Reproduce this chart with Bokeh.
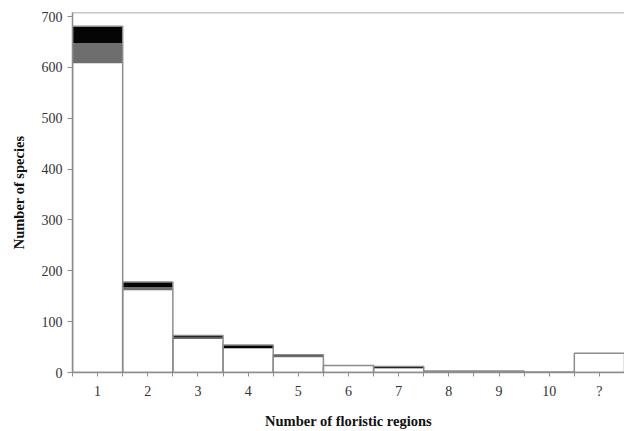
from bokeh.plotting import figure
from bokeh.models import ColumnDataSource, FixedTicker, Range1d, Span
from bokeh.embed import file_html
from bokeh.resources import INLINE

# Species counts per number of floristic regions, split into three groups
categories = ["1", "2", "3", "4", "5", "6", "7", "8", "9", "10", "?"]
white_counts = [608, 162, 66, 47, 30, 13, 8, 2, 2, 1, 38]
gray_counts = [40, 6, 3, 1, 3, 1, 1, 0, 0, 0, 0]
black_counts = [33, 10, 4, 6, 2, 0, 3, 1, 1, 0, 0]
y_ticks = [0, 100, 200, 300, 400, 500, 600, 700]

xs = list(range(1, len(categories) + 1))
bottom_gray = white_counts
bottom_black = [w + g for w, g in zip(white_counts, gray_counts)]
totals = [w + g + b for w, g, b in zip(white_counts, gray_counts, black_counts)]

src = ColumnDataSource(dict(
    x=xs, white=white_counts,
    g0=bottom_gray, g1=bottom_black,
    b0=bottom_black, b1=totals, total=totals,
))

p = figure(width=624, height=431, output_backend="svg", toolbar_location=None,
           x_range=Range1d(0.5, len(categories) + 0.5), y_range=Range1d(0, 708),
           min_border_left=72, min_border_right=0, min_border_top=12,
           min_border_bottom=59)

p.vbar(x="x", width=1, bottom=0, top="white", source=src,
       fill_color="white", line_color=None)
p.vbar(x="x", width=1, bottom="g0", top="g1", source=src,
       fill_color="#6e6e6e", line_color=None)
p.vbar(x="x", width=1, bottom="b0", top="b1", source=src,
       fill_color="#050505", line_color=None)
# outline of each full bar
p.vbar(x="x", width=1, bottom=0, top="total", source=src,
       fill_color=None, line_color="#8c8c8c", line_width=1.5)

p.grid.visible = False
p.outline_line_color = None
p.background_fill_color = "white"
p.border_fill_color = "white"
p.add_layout(Span(location=708, dimension="width", line_color="#8c8c8c", line_width=1.5))

# x axis: ticks at bar edges and centres, labels at centres
half_ticks = [0.5 + 0.5 * i for i in range(2 * len(categories) + 1)]
p.xaxis.ticker = FixedTicker(ticks=half_ticks)
overrides = {}
for t in half_ticks:
    if float(t).is_integer():
        overrides[t] = categories[int(t) - 1]
    else:
        overrides[t] = ""
p.xaxis.major_label_overrides = overrides
p.xaxis.minor_tick_line_color = None
p.xaxis.major_tick_out = 4
p.xaxis.major_tick_in = 0
p.xaxis.axis_label = "Number of floristic regions"

p.yaxis.ticker = FixedTicker(ticks=y_ticks)
p.yaxis.minor_tick_line_color = None
p.yaxis.major_tick_out = 5
p.yaxis.major_tick_in = 0
p.yaxis.axis_label = "Number of species"

for ax in (p.xaxis[0], p.yaxis[0]):
    ax.axis_line_color = "#8c8c8c"
    ax.axis_line_width = 1.5
    ax.major_tick_line_color = "#8c8c8c"
    ax.major_label_text_font = "Liberation Serif"
    ax.major_label_text_font_size = "14px"
    ax.major_label_text_color = "#333333"
    ax.axis_label_text_font = "Liberation Serif"
    ax.axis_label_text_font_size = "14.5px"
    ax.axis_label_text_font_style = "bold"
    ax.axis_label_text_color = "#111111"

p.xaxis.major_label_standoff = 7
p.xaxis.axis_label_standoff = 11
p.yaxis.major_label_standoff = 5
p.yaxis.axis_label_standoff = 12

open("out.html", "w").write(file_html(p, INLINE))
